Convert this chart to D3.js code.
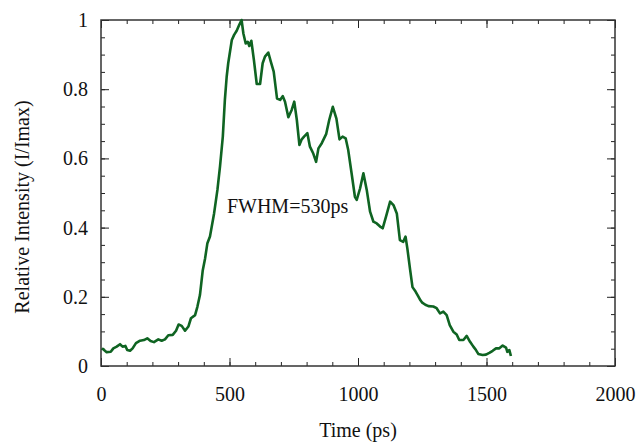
<!DOCTYPE html>
<html>
<head>
<meta charset="utf-8">
<script src="https://cdn.jsdelivr.net/npm/d3@7"></script>
<style>
  body { margin: 0; background: #fff; }
  text { font-family: "Liberation Serif", "Times New Roman", serif; fill: #111; }
</style>
</head>
<body>
<div id="chart"></div>
<script>
// time in ps, intensity normalised to peak
const timePs = [4, 22, 38, 48, 61, 74, 84, 95, 102, 113, 123, 136, 152, 167, 180, 193, 206, 223, 236, 249,
  262, 279, 292, 302, 314, 327, 340, 350, 366, 375, 385, 396, 405, 414, 424, 440, 453, 463, 474, 482,
  489, 495, 509, 518, 528, 538, 547, 554, 563, 571, 577, 585, 595, 606, 619, 629, 638, 651, 661, 672,
  685, 697, 707, 716, 729, 742, 752, 762, 772, 781, 790, 803, 813, 826, 837, 846, 859, 876, 888, 902,
  916, 928, 940, 952, 962, 976, 988, 995, 1008, 1021, 1034, 1047, 1060, 1073, 1086, 1096, 1109, 1125, 1138, 1151,
  1163, 1176, 1185, 1192, 1203, 1212, 1224, 1234, 1243, 1250, 1262, 1274, 1293, 1306, 1319, 1332, 1345, 1357, 1371, 1384,
  1394, 1410, 1423, 1436, 1449, 1459, 1468, 1485, 1498, 1511, 1524, 1537, 1550, 1563, 1576, 1581, 1589, 1595];
const intensity = [0.051, 0.040, 0.041, 0.051, 0.056, 0.063, 0.056, 0.058, 0.046, 0.044, 0.051, 0.066, 0.073, 0.075, 0.080, 0.072, 0.069, 0.077, 0.073, 0.077,
  0.089, 0.090, 0.102, 0.120, 0.116, 0.102, 0.114, 0.138, 0.147, 0.171, 0.205, 0.277, 0.311, 0.355, 0.374, 0.441, 0.509, 0.576, 0.663, 0.769,
  0.836, 0.875, 0.942, 0.957, 0.969, 0.986, 1.000, 0.961, 0.932, 0.937, 0.925, 0.940, 0.884, 0.815, 0.815, 0.875, 0.894, 0.906, 0.879, 0.851,
  0.773, 0.769, 0.780, 0.764, 0.719, 0.740, 0.764, 0.711, 0.639, 0.655, 0.663, 0.673, 0.634, 0.614, 0.590, 0.629, 0.644, 0.670, 0.711, 0.749,
  0.715, 0.655, 0.663, 0.658, 0.624, 0.552, 0.489, 0.480, 0.513, 0.557, 0.509, 0.446, 0.417, 0.412, 0.403, 0.398, 0.432, 0.475, 0.465, 0.441,
  0.364, 0.359, 0.374, 0.340, 0.277, 0.228, 0.215, 0.202, 0.190, 0.183, 0.177, 0.173, 0.172, 0.167, 0.152, 0.157, 0.147, 0.118, 0.099, 0.091,
  0.075, 0.075, 0.087, 0.070, 0.056, 0.046, 0.035, 0.032, 0.033, 0.038, 0.044, 0.051, 0.051, 0.059, 0.053, 0.041, 0.046, 0.029];

const xTicks = [0, 500, 1000, 1500, 2000];
const yTicks = [0, 0.2, 0.4, 0.6, 0.8, 1];
const annotation = "FWHM=530ps";

const margin = { top: 20, right: 22, bottom: 77, left: 101 };
const width = 637 - margin.left - margin.right;
const height = 443 - margin.top - margin.bottom;

const svg = d3.select("#chart").append("svg")
    .attr("width", 637)
    .attr("height", 443);

const g = svg.append("g")
    .attr("transform", "translate(" + margin.left + "," + margin.top + ")");

const x = d3.scaleLinear().domain([0, 2000]).range([0, width]);
const y = d3.scaleLinear().domain([0, 1]).range([height, 0]);

const minorX = d3.range(0, 2001, 100);
const minorY = d3.range(0, 1.0001, 0.05);

function styleAxis(sel) {
    sel.select(".domain").remove();
    sel.selectAll("line").attr("stroke", "#222").attr("stroke-width", 1);
    sel.selectAll("text").style("font-size", "20px").attr("fill", "#111");
}

// minor ticks on all four sides
g.append("g").attr("transform", "translate(0," + height + ")")
    .call(d3.axisBottom(x).tickValues(minorX).tickSize(-4).tickFormat(""))
    .call(styleAxis);
g.append("g")
    .call(d3.axisTop(x).tickValues(minorX).tickSize(-4).tickFormat(""))
    .call(styleAxis);
g.append("g")
    .call(d3.axisLeft(y).tickValues(minorY).tickSize(-4).tickFormat(""))
    .call(styleAxis);
g.append("g").attr("transform", "translate(" + width + ",0)")
    .call(d3.axisRight(y).tickValues(minorY).tickSize(-4).tickFormat(""))
    .call(styleAxis);

// major ticks with labels
g.append("g").attr("transform", "translate(0," + height + ")")
    .call(d3.axisBottom(x).tickValues(xTicks).tickSize(-8).tickPadding(21).tickFormat(d3.format("d")))
    .call(styleAxis);
g.append("g")
    .call(d3.axisTop(x).tickValues(xTicks).tickSize(-8).tickFormat(""))
    .call(styleAxis);
g.append("g")
    .call(d3.axisLeft(y).tickValues(yTicks).tickSize(-8).tickPadding(13).tickFormat(d => d === 0 || d === 1 ? d : d.toFixed(1)))
    .call(styleAxis);
g.append("g").attr("transform", "translate(" + width + ",0)")
    .call(d3.axisRight(y).tickValues(yTicks).tickSize(-8).tickFormat(""))
    .call(styleAxis);

// frame
g.append("rect")
    .attr("width", width)
    .attr("height", height)
    .attr("fill", "none")
    .attr("stroke", "#333")
    .attr("stroke-width", 1.5);

// the pulse
const pts = timePs.map((t, i) => [t, intensity[i]]);
const line = d3.line().x(d => x(d[0])).y(d => y(d[1]));

g.append("path")
    .datum(pts)
    .attr("d", line)
    .attr("fill", "none")
    .attr("stroke", "#0f6422")
    .attr("stroke-width", 2.6)
    .attr("stroke-linejoin", "round");

g.append("text")
    .attr("x", x(490))
    .attr("y", y(0.442))
    .style("font-size", "20px")
    .text(annotation);

// axis titles
svg.append("text")
    .attr("x", margin.left + width / 2)
    .attr("y", 437)
    .attr("text-anchor", "middle")
    .style("font-size", "20px")
    .text("Time (ps)");

svg.append("text")
    .attr("transform", "translate(29," + (margin.top + height / 2 + 14) + ") rotate(-90)")
    .attr("text-anchor", "middle")
    .style("font-size", "20px")
    .text("Relative Intensity (I/Imax)");
</script>
</body>
</html>
